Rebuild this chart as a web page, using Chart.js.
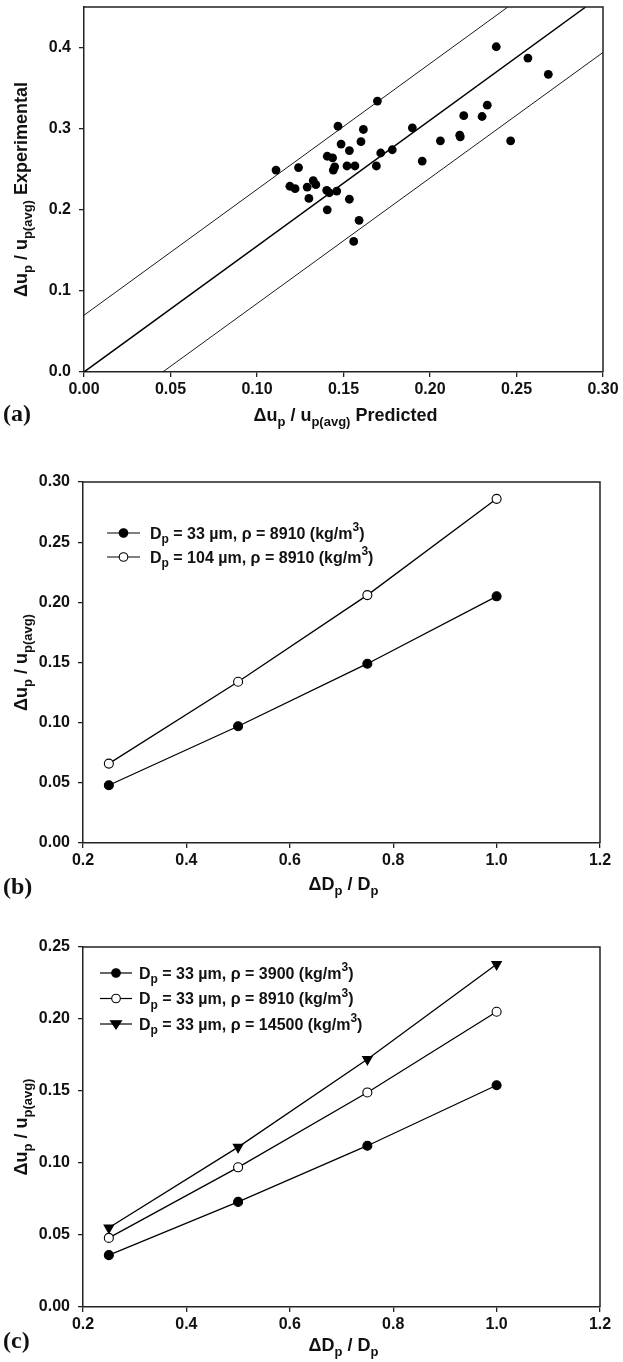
<!DOCTYPE html>
<html>
<head>
<meta charset="utf-8">
<script src="https://cdn.jsdelivr.net/npm/chart.js@4.4.1/dist/chart.umd.min.js"></script>
<style>
  html, body { margin: 0; padding: 0; background: #fff; }
  #wrap { position: relative; width: 623px; height: 1362px; }
  .panel { position: absolute; left: 0; width: 623px; }
</style>
</head>
<body>
<div id="wrap">
  <div class="panel" style="top:0;height:440px"><canvas id="chartA"></canvas></div>
  <div class="panel" style="top:440px;height:460px"><canvas id="chartB"></canvas></div>
  <div class="panel" style="top:900px;height:462px"><canvas id="chartC"></canvas></div>
</div>
<script>
// (a) predicted vs experimental velocity spread
const predicted = [0.111, 0.119, 0.122, 0.124, 0.129, 0.130, 0.1325, 0.134, 0.1406, 0.1437,
  0.1403, 0.1418, 0.1461, 0.1406, 0.1449, 0.1441, 0.1468, 0.1486, 0.1534, 0.1520,
  0.1566, 0.1534, 0.1590, 0.1559, 0.1601, 0.1615, 0.1696, 0.1690, 0.1715, 0.1782,
  0.1898, 0.1955, 0.2060, 0.2172, 0.2175, 0.2195, 0.2301, 0.2331, 0.2383, 0.2466,
  0.2566, 0.2684];
const experimental = [0.249, 0.229, 0.226, 0.252, 0.228, 0.214, 0.236, 0.231, 0.266, 0.264,
  0.224, 0.221, 0.223, 0.200, 0.253, 0.249, 0.303, 0.281, 0.273, 0.254,
  0.254, 0.213, 0.187, 0.161, 0.284, 0.299, 0.334, 0.254, 0.270, 0.274,
  0.301, 0.260, 0.285, 0.292, 0.290, 0.316, 0.315, 0.329, 0.401, 0.285,
  0.387, 0.367];

// fit line and +/- band
const fitX = [0, 0.290];
const fitY = [0, 0.45];
const upperX = [0, 0.245];
const upperY = [0.07, 0.45];
const lowerX = [0.0455, 0.30];
const lowerY = [0, 0.394];

// (b), (c) against dDp/Dp
const sizeRatio = [0.25, 0.5, 0.75, 1.0];
const b33um = [0.048, 0.097, 0.149, 0.205];
const b104um = [0.066, 0.134, 0.206, 0.286];
const c3900 = [0.036, 0.073, 0.112, 0.154];
const c8910 = [0.048, 0.097, 0.149, 0.205];
const c14500 = [0.055, 0.111, 0.172, 0.238];

// tick labels
const xTicksA = [0, 0.05, 0.10, 0.15, 0.20, 0.25, 0.30];
const yTicksA = [0, 0.1, 0.2, 0.3, 0.4];
const xTicksBC = [0.2, 0.4, 0.6, 0.8, 1.0, 1.2];
const yTicksB = [0, 0.05, 0.10, 0.15, 0.20, 0.25, 0.30];
const yTicksC = [0, 0.05, 0.10, 0.15, 0.20, 0.25];

const FONT = '"Liberation Sans", Arial, Helvetica, sans-serif';
const INK = '#111';

function pts(xs, ys) { return xs.map((x, i) => ({ x: x, y: ys[i] })); }

function fontFor(kind, size) {
  return 'bold ' + (kind ? Math.round(size * 0.72) : size) + 'px ' + FONT;
}

function drawRich(ctx, segs, x, y, size, align) {
  let w = 0;
  segs.forEach(s => { ctx.font = fontFor(s[1], size); w += ctx.measureText(s[0]).width; });
  let cx = align === 'center' ? x - w / 2 : x;
  segs.forEach(s => {
    ctx.font = fontFor(s[1], size);
    const dy = s[1] === 'sub' ? size * 0.3 : s[1] === 'sup' ? -size * 0.45 : 0;
    ctx.fillText(s[0], cx, y + dy);
    cx += ctx.measureText(s[0]).width;
  });
}

function marker(ctx, kind, x, y, r) {
  ctx.beginPath();
  if (kind === 'tri') {
    ctx.moveTo(x - r, y - r * 0.6);
    ctx.lineTo(x + r, y - r * 0.6);
    ctx.lineTo(x, y + r * 0.9);
    ctx.closePath();
  } else {
    ctx.arc(x, y, r, 0, Math.PI * 2);
  }
  ctx.fillStyle = kind === 'ring' ? '#fff' : '#000';
  ctx.fill();
  ctx.lineWidth = 1.1;
  ctx.strokeStyle = '#000';
  ctx.stroke();
}

const decor = {
  id: 'decor',
  afterDatasetsDraw(chart, args, o) {
    const ctx = chart.ctx, a = chart.chartArea;
    ctx.save();
    // frame top and right
    ctx.strokeStyle = '#222';
    ctx.lineWidth = 1.5;
    ctx.beginPath();
    ctx.moveTo(a.left, a.top);
    ctx.lineTo(a.right, a.top);
    ctx.lineTo(a.right, a.bottom);
    ctx.stroke();

    ctx.fillStyle = INK;
    ctx.textBaseline = 'alphabetic';
    drawRich(ctx, o.xTitle, (a.left + a.right) / 2 + 2, o.xTitleY, 18, 'center');
    ctx.save();
    ctx.translate(o.yTitleX, (a.top + a.bottom) / 2);
    ctx.rotate(-Math.PI / 2);
    drawRich(ctx, o.yTitle, 0, 0, 18, 'center');
    ctx.restore();

    ctx.font = 'bold 24px "Liberation Serif", "Times New Roman", serif';
    ctx.fillText(o.tag, 3, o.tagY);

    (o.legend || []).forEach((e, i) => {
      const y = o.legendY + i * o.legendGap;
      ctx.strokeStyle = '#000';
      ctx.lineWidth = 1.2;
      ctx.beginPath();
      ctx.moveTo(o.legendX1, y);
      ctx.lineTo(o.legendX2, y);
      ctx.stroke();
      marker(ctx, e.marker, (o.legendX1 + o.legendX2) / 2, y, e.marker === 'tri' ? 5.5 : 4.3);
      ctx.fillStyle = INK;
      drawRich(ctx, e.label, o.legendTextX, y + 5.5, 16, 'left');
    });
    ctx.restore();
  }
};

function axis(min, max, ticksArr, decimals, isY, size) {
  return {
    type: 'linear',
    min: min,
    max: max,
    afterBuildTicks: s => { s.ticks = ticksArr.map(v => ({ value: v })); },
    afterFit: s => {
      if (isY) s.width = size; else s.height = size;
      s.paddingTop = 0; s.paddingBottom = 0; s.paddingLeft = 0; s.paddingRight = 0;
    },
    ticks: {
      callback: v => Number(v).toFixed(decimals),
      font: { family: FONT, size: 16, weight: 'bold' },
      color: INK,
      padding: isY ? 8 : 3,
      autoSkip: false,
      maxRotation: 0
    },
    grid: { display: true, drawOnChartArea: false, drawTicks: true, tickLength: 5, color: '#222', lineWidth: 1.3 },
    border: { display: true, color: '#222', width: 1.5 }
  };
}

function seriesLine(xs, ys, kind) {
  return {
    data: pts(xs, ys),
    showLine: true,
    borderColor: '#000',
    borderWidth: 1.3,
    pointStyle: kind === 'tri' ? 'triangle' : 'circle',
    rotation: kind === 'tri' ? 180 : 0,
    pointRadius: kind === 'tri' ? 5.5 : 4.5,
    pointBackgroundColor: kind === 'ring' ? '#fff' : '#000',
    pointBorderColor: '#000',
    pointBorderWidth: 1.1
  };
}

function refLine(xs, ys, w) {
  return { data: pts(xs, ys), showLine: true, borderColor: '#000', borderWidth: w, pointRadius: 0 };
}

const common = {
  responsive: true,
  maintainAspectRatio: false,
  animation: false,
  events: [],
  plugins: { legend: { display: false }, tooltip: { enabled: false } }
};

const DU = [['Δu', ''], ['p', 'sub'], [' / u', ''], ['p(avg)', 'sub']];
const DD = [['ΔD', ''], ['p', 'sub'], [' / D', ''], ['p', 'sub']];

function dpLabel(d, rho) {
  return [['D', ''], ['p', 'sub'], [' = ' + d + ' µm, ρ = ' + rho + ' (kg/m', ''], ['3', 'sup'], [')', '']];
}

new Chart(document.getElementById('chartA'), {
  type: 'scatter',
  data: {
    datasets: [
      { data: pts(predicted, experimental), pointRadius: 4.4, pointBackgroundColor: '#000', pointBorderWidth: 0 },
      refLine(fitX, fitY, 1.5),
      refLine(upperX, upperY, 0.9),
      refLine(lowerX, lowerY, 0.9)
    ]
  },
  options: Object.assign({}, common, {
    layout: { padding: { top: 7, right: 20, left: 0, bottom: 0 } },
    scales: {
      x: axis(0, 0.30, xTicksA, 2, false, 68),
      y: axis(0, 0.45, yTicksA, 1, true, 84)
    },
    plugins: Object.assign({}, common.plugins, {
      decor: {
        xTitle: DU.concat([[' Predicted', '']]),
        yTitle: DU.concat([[' Experimental', '']]),
        xTitleY: 421, yTitleX: 27, tag: '(a)', tagY: 421
      }
    })
  }),
  plugins: [decor]
});

new Chart(document.getElementById('chartB'), {
  type: 'scatter',
  data: {
    datasets: [
      seriesLine(sizeRatio, b33um, 'dot'),
      seriesLine(sizeRatio, b104um, 'ring')
    ]
  },
  options: Object.assign({}, common, {
    layout: { padding: { top: 42, right: 23, left: 0, bottom: 0 } },
    scales: {
      x: axis(0.2, 1.2, xTicksBC, 1, false, 57),
      y: axis(0, 0.30, yTicksB, 2, true, 83)
    },
    plugins: Object.assign({}, common.plugins, {
      decor: {
        xTitle: DD, yTitle: DU,
        xTitleY: 450, yTitleX: 27, tag: '(b)', tagY: 454,
        legendX1: 107, legendX2: 140, legendTextX: 150, legendY: 93, legendGap: 24,
        legend: [
          { marker: 'dot', label: dpLabel('33', '8910') },
          { marker: 'ring', label: dpLabel('104', '8910') }
        ]
      }
    })
  }),
  plugins: [decor]
});

new Chart(document.getElementById('chartC'), {
  type: 'scatter',
  data: {
    datasets: [
      seriesLine(sizeRatio, c3900, 'dot'),
      seriesLine(sizeRatio, c8910, 'ring'),
      seriesLine(sizeRatio, c14500, 'tri')
    ]
  },
  options: Object.assign({}, common, {
    layout: { padding: { top: 47, right: 23, left: 0, bottom: 0 } },
    scales: {
      x: axis(0.2, 1.2, xTicksBC, 1, false, 55),
      y: axis(0, 0.25, yTicksC, 2, true, 83)
    },
    plugins: Object.assign({}, common.plugins, {
      decor: {
        xTitle: DD, yTitle: DU,
        xTitleY: 451, yTitleX: 27, tag: '(c)', tagY: 448,
        legendX1: 100, legendX2: 132, legendTextX: 139, legendY: 73, legendGap: 25.5,
        legend: [
          { marker: 'dot', label: dpLabel('33', '3900') },
          { marker: 'ring', label: dpLabel('33', '8910') },
          { marker: 'tri', label: dpLabel('33', '14500') }
        ]
      }
    })
  }),
  plugins: [decor]
});
</script>
</body>
</html>
